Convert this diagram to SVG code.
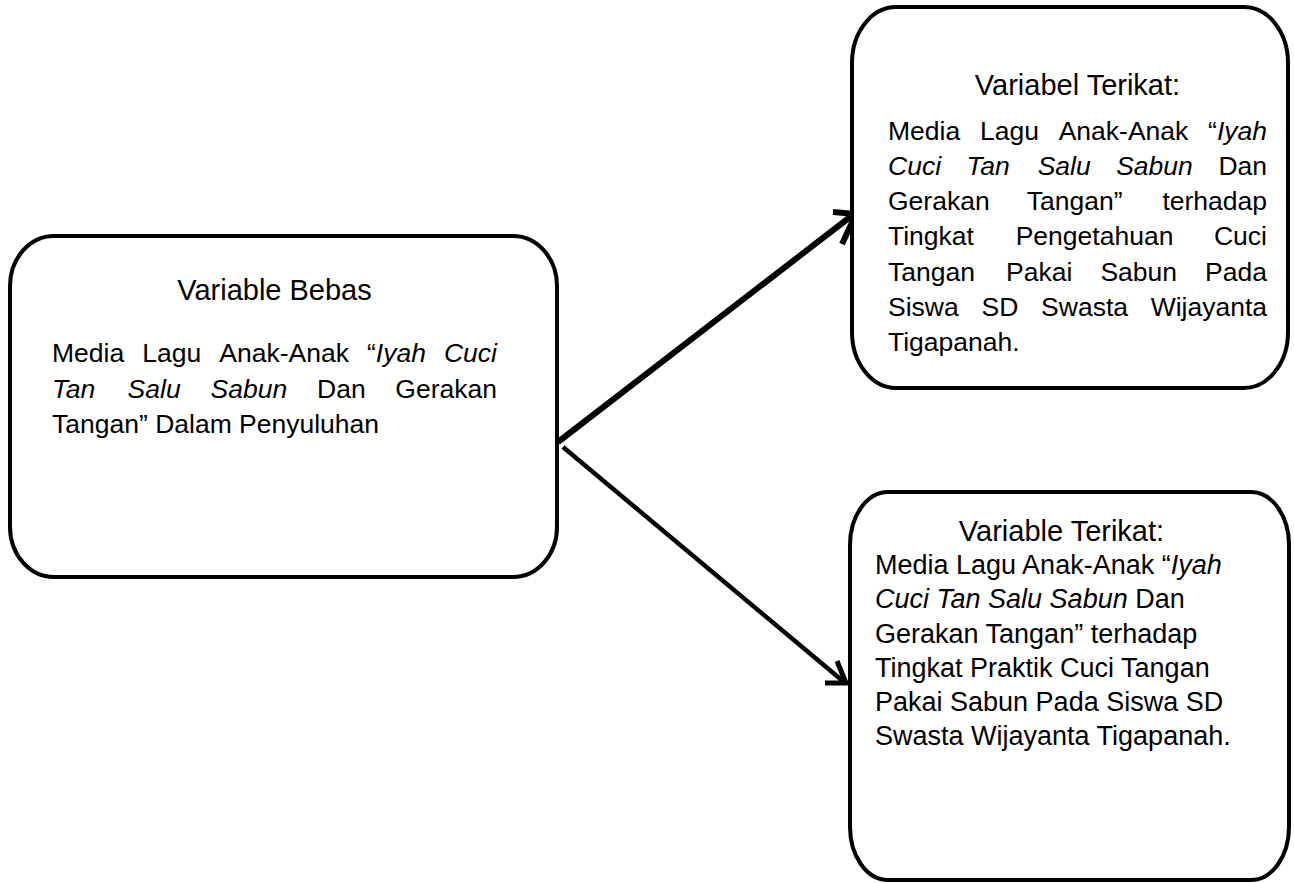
<svg xmlns="http://www.w3.org/2000/svg" width="1294" height="883" viewBox="0 0 1294 883">
<style>
.box{fill:#fff;stroke:#000;stroke-width:4}
.t{font-family:"Liberation Sans",Arial,sans-serif;fill:#000}
.title{font-size:29px;text-anchor:middle}
.body{font-size:26.5px}
.b2{font-size:27px}
.i{font-style:italic}
.conn{stroke:#000;fill:none;stroke-linecap:butt;stroke-linejoin:miter}
</style>
<rect width="1294" height="883" fill="#fff"/>
<g id="connectors">
<line class="conn" x1="558" y1="442" x2="854" y2="214" stroke-width="6"/>
<polyline class="conn" points="833,212 856,214 842,244" stroke-width="6"/>
<line class="conn" x1="563" y1="447" x2="844" y2="682" stroke-width="4.5"/>
<polyline class="conn" points="837,661 846,683 825,683" stroke-width="5"/>
</g>
<g id="node-bebas">
<rect class="box" x="10" y="236" width="547" height="341" rx="44" ry="50"/>
<text class="t title" x="274.5" y="300">Variable Bebas</text>
<text class="t body" y="362"><tspan x="52">Media</tspan><tspan x="142.3">Lagu</tspan><tspan x="219.3">Anak-Anak</tspan><tspan x="367">“</tspan><tspan class="i">Iyah</tspan><tspan class="i" x="497" text-anchor="end">Cuci</tspan></text>
<text class="t body" y="398"><tspan class="i" x="52">Tan</tspan><tspan class="i" x="127.6">Salu</tspan><tspan class="i" x="210.5">Sabun</tspan><tspan x="317">Dan</tspan><tspan x="497" text-anchor="end">Gerakan</tspan></text>
<text class="t body" x="52" y="433">Tangan” Dalam Penyuluhan</text>
</g>
<g id="node-terikat-1">
<rect class="box" x="852" y="7" width="436" height="381" rx="44" ry="56"/>
<text class="t title" x="1077.5" y="95">Variabel Terikat:</text>
<text class="t body" y="140"><tspan x="888">Media</tspan><tspan x="980">Lagu</tspan><tspan x="1058.7">Anak-Anak</tspan><tspan x="1267" text-anchor="end">“<tspan class="i">Iyah</tspan></tspan></text>
<text class="t body" y="175"><tspan class="i" x="888">Cuci</tspan><tspan class="i" x="966.5">Tan</tspan><tspan class="i" x="1037.7">Salu</tspan><tspan class="i" x="1116.2">Sabun</tspan><tspan x="1267" text-anchor="end">Dan</tspan></text>
<text class="t body" y="210"><tspan x="888">Gerakan</tspan><tspan x="1026.7">Tangan”</tspan><tspan x="1267" text-anchor="end">terhadap</tspan></text>
<text class="t body" y="245"><tspan x="888">Tingkat</tspan><tspan x="1015.7">Pengetahuan</tspan><tspan x="1267" text-anchor="end">Cuci</tspan></text>
<text class="t body" y="281"><tspan x="888">Tangan</tspan><tspan x="1006">Pakai</tspan><tspan x="1100.4">Sabun</tspan><tspan x="1267" text-anchor="end">Pada</tspan></text>
<text class="t body" y="316"><tspan x="888">Siswa</tspan><tspan x="981.5">SD</tspan><tspan x="1041.1">Swasta</tspan><tspan x="1267" text-anchor="end">Wijayanta</tspan></text>
<text class="t body" x="888" y="351">Tigapanah.</text>
</g>
<g id="node-terikat-2">
<rect class="box" x="850" y="492" width="439" height="388" rx="38" ry="53"/>
<text class="t title" x="1061.5" y="541">Variable Terikat:</text>
<text class="t b2" x="875" y="574">Media Lagu Anak-Anak “<tspan class="i">Iyah</tspan></text>
<text class="t b2" x="875" y="608"><tspan class="i">Cuci Tan Salu Sabun</tspan> Dan</text>
<text class="t b2" x="875" y="643">Gerakan Tangan” terhadap</text>
<text class="t b2" x="875" y="677">Tingkat Praktik Cuci Tangan</text>
<text class="t b2" x="875" y="711">Pakai Sabun Pada Siswa SD</text>
<text class="t b2" x="875" y="745">Swasta Wijayanta Tigapanah.</text>
</g>
</svg>
